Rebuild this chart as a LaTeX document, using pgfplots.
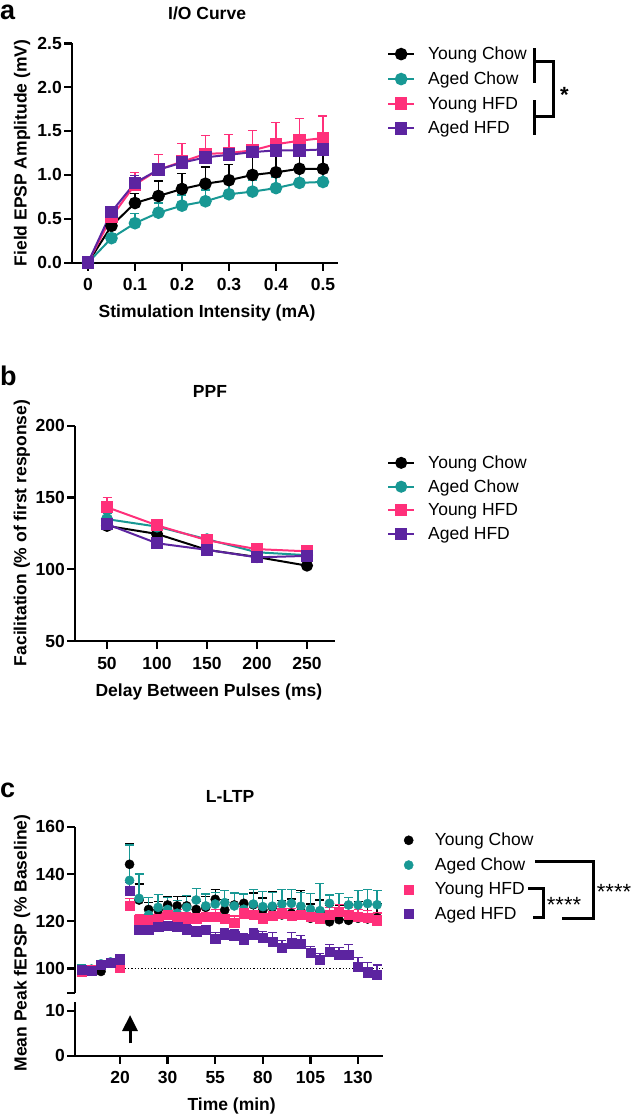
\documentclass[border=0pt]{standalone}
\usepackage{fontspec}
\setmainfont{Liberation Sans}
\usepackage{pgfplots}
\pgfplotsset{compat=1.18}
\usetikzlibrary{arrows.meta}
\definecolor{cteal}{RGB}{24,152,148}
\definecolor{cpink}{RGB}{255,48,122}
\definecolor{cpurp}{RGB}{92,36,160}
\newcommand{\lab}{\fontsize{17.5}{18}\selectfont\bfseries}
\newcommand{\leg}{\fontsize{17.5}{18}\selectfont}
\pgfplotsset{
  gp/.style={
    scale only axis, clip=false,
    axis x line*=bottom, axis y line*=left,
    axis line style={line width=2.4pt},
    every tick/.style={line width=2.4pt, black},
    tick align=outside, major tick length=8pt,
    ticklabel style={font=\lab},
    xticklabel style={yshift=-4.5pt},
    yticklabel style={inner xsep=2pt},
    /pgf/number format/assume math mode=true,
    label style={font=\lab},
    title style={font=\lab},
    legend cell align=left,
    legend image code/.code={\path (0pt,0pt) (26pt,0pt); \draw[mark repeat=2,mark phase=2,##1] plot coordinates {(0pt,0pt) (13pt,0pt) (26pt,0pt)};},
    legend style={draw=none, fill=none, inner sep=0pt, font=\leg, anchor=north west,
      nodes={inner ysep=1pt, inner xsep=0pt},
      /tikz/every odd column/.style={column sep=13pt}},
  },
  ebar/.style={error bars/y dir=plus, error bars/y explicit,
    error bars/error bar style={line width=1.3pt},
    error bars/error mark options={rotate=90, mark size=4.5pt, line width=1.3pt}},
}
\begin{document}
\begin{tikzpicture}
\path[use as bounding box] (0pt,0pt) rectangle (633pt,-1116pt);

% ---------------- panel a ----------------
\begin{axis}[gp, at={(72pt,-262.7pt)}, anchor=south west, width=266pt, height=219.4pt,
  xmin=-0.034, xmax=0.532, ymin=0, ymax=2.5,
  xtick={0,0.1,0.2,0.3,0.4,0.5}, xticklabels={0,0.1,0.2,0.3,0.4,0.5},
  ytick={0,0.5,1,1.5,2,2.5}, yticklabels={0.0,0.5,1.0,1.5,2.0,2.5},
  title={I/O Curve}, title style={at={(axis description cs:0.508,1)}, anchor=base, yshift=18.3pt},
  xlabel={Stimulation Intensity (mA)}, ylabel={Field EPSP Amplitude (mV)},
  xlabel style={at={(axis description cs:0.508,0)}, anchor=base, yshift=-55pt},
  ylabel style={at={(axis description cs:-0.188,0.5)}, anchor=center},
  legend style={at={(axis description cs:1.184,0.9886)}, row sep=8.8pt},
]
\addplot[black, line width=2pt, mark=*, mark size=5.3pt, mark options={solid,fill=black}, ebar]
 table[x=x,y=y,y error=e] {
x y e
0 0 0
0.05 0.42 0.05
0.1 0.68 0.11
0.15 0.76 0.17
0.2 0.84 0.18
0.25 0.90 0.19
0.3 0.94 0.18
0.35 1.00 0.20
0.4 1.03 0.21
0.45 1.07 0.22
0.5 1.07 0.22
};
\addplot[cteal, line width=2pt, mark=*, mark size=5.3pt, mark options={solid,fill=cteal}, ebar]
 table[x=x,y=y,y error=e] {
x y e
0 0 0
0.05 0.28 0.05
0.1 0.45 0.11
0.15 0.57 0.11
0.2 0.65 0.12
0.25 0.70 0.13
0.3 0.78 0.12
0.35 0.81 0.13
0.4 0.85 0.12
0.45 0.91 0.12
0.5 0.92 0.12
};
\addplot[cpink, line width=2pt, mark=square*, mark size=5.3pt, mark options={solid,fill=cpink}, ebar]
 table[x=x,y=y,y error=e] {
x y e
0 0 0
0.05 0.52 0.06
0.1 0.89 0.14
0.15 1.06 0.17
0.2 1.15 0.21
0.25 1.24 0.21
0.3 1.25 0.21
0.35 1.28 0.23
0.4 1.35 0.25
0.45 1.39 0.25
0.5 1.42 0.25
};
\addplot[cpurp, line width=2pt, mark=square*, mark size=5.3pt, mark options={solid,fill=cpurp}, ebar]
 table[x=x,y=y,y error=e] {
x y e
0 0 0
0.05 0.58 0.05
0.1 0.91 0.08
0.15 1.06 0.06
0.2 1.14 0.05
0.25 1.20 0.05
0.3 1.23 0.05
0.35 1.26 0.06
0.4 1.28 0.07
0.45 1.28 0.08
0.5 1.29 0.08
};
\legend{Young Chow, Aged Chow, Young HFD, Aged HFD}
\end{axis}

% ---------------- panel b ----------------
\begin{axis}[gp, at={(75pt,-641pt)}, anchor=south west, width=260pt, height=215.3pt,
  xmin=18, xmax=278, ymin=50, ymax=200,
  xtick={50,100,150,200,250}, ytick={50,100,150,200},
  title={PPF}, title style={at={(axis description cs:0.519,1)}, anchor=base, yshift=22.7pt},
  xlabel={Delay Between Pulses (ms)}, ylabel={Facilitation (\% of first response)},
  xlabel style={at={(axis description cs:0.515,0)}, anchor=base, yshift=-55pt},
  ylabel style={at={(axis description cs:-0.204,0.502)}, anchor=center},
  legend style={at={(axis description cs:1.2,0.866)}, row sep=7.7pt},
]
\addplot[black, line width=2pt, mark=*, mark size=5pt, mark options={solid,fill=black}, ebar]
 table[x=x,y=y,y error=e] {
x y e
50 130.2 3
100 124.6 2
150 113.5 1
200 108.5 1
250 102.5 1
};
\addplot[cteal, line width=2pt, mark=*, mark size=5pt, mark options={solid,fill=cteal}, ebar]
 table[x=x,y=y,y error=e] {
x y e
50 134.9 4
100 129.7 2
150 120.9 2
200 111.8 1
250 109.8 1
};
\addplot[cpink, line width=2pt, mark=square*, mark size=5pt, mark options={solid,fill=cpink}, ebar]
 table[x=x,y=y,y error=e] {
x y e
50 143.2 6.8
100 130.6 3.5
150 120.2 1.5
200 114.0 1.5
250 112.5 1.5
};
\addplot[cpurp, line width=2pt, mark=square*, mark size=5pt, mark options={solid,fill=cpurp}, ebar]
 table[x=x,y=y,y error=e] {
x y e
50 131.4 2
100 118.1 2
150 113.5 1.5
200 108.3 1.5
250 109.3 1.5
};
\legend{Young Chow, Aged Chow, Young HFD, Aged HFD}
\end{axis}

% ---------------- panel c (upper) ----------------
\begin{axis}[gp, at={(75pt,-992.7pt)}, anchor=south west, width=307.8pt, height=166pt,
  xmin=0.27, xmax=32.6, ymin=89.8, ymax=160, axis x line=none,
  ytick={100,120,140,160}, extra y ticks={89.8}, extra y tick labels={},
  title={L-LTP}, title style={at={(axis description cs:0.504,1)}, anchor=base, yshift=18.7pt},
  legend style={at={(axis description cs:1.0406,0.968)}, row sep=8.6pt},
]
\addplot[black, dotted, line width=1.3pt, forget plot] coordinates {(5.5,100) (32.6,100)};
\addplot[black, only marks, mark=*, mark size=4.6pt, mark options={fill=black}, ebar]
 table[x=x,y=y,y error=e] {
x y e
1 99.3 1.5
2 99.6 1.2
3 98.8 1.5
4 102.5 1.5
5 103.5 2.0
6 144.1 8.6
7 129.0 6.8
8 125.0 3.0
9 124.8 3.5
10 126.9 3.5
11 126.5 4.0
12 126.5 4.0
13 125.0 3.5
14 125.9 4.5
15 129.3 4.0
16 124.8 4.5
17 126.9 5.0
18 127.6 4.0
19 127.0 5.0
20 124.8 5.0
21 126.0 6.5
22 122.7 6.0
23 123.4 6.0
24 124.1 9.0
25 121.3 6.0
26 124.0 5.0
27 119.8 7.0
28 120.7 6.0
29 120.4 7.0
30 121.3 7.0
31 121.0 6.0
32 121.5 6.0
};
\addplot[cteal, only marks, mark=*, mark size=4.6pt, mark options={fill=cteal}, ebar]
 table[x=x,y=y,y error=e] {
x y e
1 99.5 2.0
2 99.8 1.5
3 102.0 1.5
4 102.8 1.5
5 101.0 2.5
6 137.3 15.0
7 129.7 10.3
8 122.7 7.3
9 125.9 5.5
10 125.0 5.0
11 123.4 5.5
12 125.9 5.0
13 129.0 5.0
14 126.5 5.0
15 127.3 5.0
16 127.9 5.0
17 126.5 5.5
18 125.1 6.5
19 127.3 6.0
20 126.2 6.5
21 126.4 5.8
22 127.3 6.2
23 127.6 5.9
24 126.4 5.7
25 125.1 6.7
26 124.5 11.6
27 127.6 3.5
28 124.1 7.7
29 126.9 3.2
30 126.9 6.0
31 127.5 6.0
32 127.0 6.0
};
\addplot[cpink, only marks, mark=square*, mark size=4.6pt, mark options={fill=cpink}, ebar]
 table[x=x,y=y,y error=e] {
x y e
1 98.8 1.5
2 99.5 1.5
3 101.5 1.5
4 102.5 1.5
5 100.3 4.5
6 126.5 3.0
7 120.5 2.5
8 120.5 2.5
9 121.0 2.5
10 122.7 2.5
11 122.0 3.0
12 121.3 2.5
13 121.3 3.0
14 122.0 3.0
15 122.0 3.0
16 121.0 3.0
17 119.3 3.0
18 123.4 3.0
19 122.7 3.0
20 121.3 3.0
21 122.3 3.0
22 123.4 3.0
23 122.3 3.0
24 122.7 3.0
25 122.0 3.0
26 121.3 3.0
27 122.7 3.0
28 124.1 3.0
29 122.7 3.0
30 122.0 3.0
31 121.5 3.0
32 120.5 3.0
};
\addplot[cpurp, only marks, mark=square*, mark size=4.6pt, mark options={fill=cpurp}, ebar]
 table[x=x,y=y,y error=e] {
x y e
1 99.4 2.0
2 99.2 1.5
3 101.8 1.5
4 102.6 1.5
5 104.0 2.0
6 132.8 3.5
7 116.3 2.0
8 116.3 2.0
9 117.7 2.0
10 118.0 2.0
11 117.7 2.0
12 116.6 2.0
13 115.6 2.0
14 116.3 2.0
15 112.8 2.5
16 114.2 2.5
17 113.8 2.5
18 112.4 2.5
19 114.2 2.5
20 113.2 2.5
21 111.4 4.0
22 109.0 3.0
23 110.7 4.5
24 110.5 3.5
25 106.7 2.5
26 103.9 2.5
27 107.1 3.0
28 105.8 3.0
29 105.8 4.5
30 100.8 4.0
31 98.5 4.0
32 97.5 4.0
};
\legend{Young Chow, Aged Chow, Young HFD, Aged HFD}
\end{axis}

% ---------------- panel c (lower) ----------------
\begin{axis}[gp, at={(75pt,-1055.7pt)}, anchor=south west, width=307.8pt, height=54pt,
  xmin=0.27, xmax=32.6, ymin=0, ymax=12,
  ytick={0,10}, xtick={5,10,15,20,25,30}, xticklabels={20,30,55,80,105,130},
  xlabel={Time (min)},
  xlabel style={at={(axis description cs:0.509,0)}, anchor=base, yshift=-55pt},
]
\draw[-{Triangle[width=15pt,length=16pt]}, line width=3pt] (axis cs:6.05,2.76) -- (axis cs:6.05,9.04);
\end{axis}

% ---------------- annotations ----------------
\node[anchor=base west, inner sep=0pt, font=\fontsize{27}{27}\selectfont\bfseries] at (0pt,-20pt) {a};
\node[anchor=base west, inner sep=0pt, font=\fontsize{27}{27}\selectfont\bfseries] at (0pt,-385pt) {b};
\node[anchor=base west, inner sep=0pt, font=\fontsize{27}{27}\selectfont\bfseries] at (0pt,-797pt) {c};
\node[rotate=90, anchor=center, font=\lab] at (22pt,-943pt) {Mean Peak fEPSP (\% Baseline)};

% brackets panel a
\draw[line width=2.6pt] (534.3pt,-48.3pt) -- (534.3pt,-83.3pt);
\draw[line width=2.6pt] (534.3pt,-100pt) -- (534.3pt,-135pt);
\draw[line width=2.6pt] (534.3pt,-61.7pt) -- (553.3pt,-61.7pt) -- (553.3pt,-116.7pt) -- (534.3pt,-116.7pt);
\node[anchor=base west, inner sep=0pt, font=\fontsize{22}{22}\selectfont\bfseries] at (560pt,-102pt) {*};

% brackets panel c
\draw[line width=2.6pt] (535pt,-861.7pt) -- (593.3pt,-861.7pt) -- (593.3pt,-918.3pt) -- (561.7pt,-918.3pt);
\draw[line width=2.6pt] (528.3pt,-888.3pt) -- (543.3pt,-888.3pt) -- (543.3pt,-917.3pt) -- (532.7pt,-917.3pt);
\node[anchor=base west, inner sep=0pt, font=\fontsize{22}{22}\selectfont] at (546.7pt,-912.5pt) {****};
\node[anchor=base west, inner sep=0pt, font=\fontsize{22}{22}\selectfont] at (596.7pt,-899.8pt) {****};
\end{tikzpicture}
\end{document}
